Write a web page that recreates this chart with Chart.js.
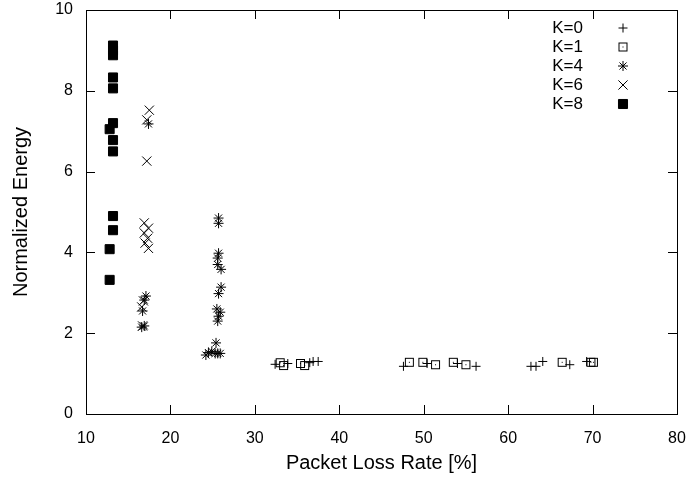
<!DOCTYPE html>
<html>
<head>
<meta charset="utf-8">
<script src="https://cdn.jsdelivr.net/npm/chart.js@4.4.0/dist/chart.umd.min.js"></script>
<style>
  body { margin: 0; background: #fff; }
  #wrap { width: 691px; height: 483px; }
</style>
</head>
<body>
<div id="wrap"><canvas id="myChart"></canvas></div>
<script>
// series
const seriesNames = ['K=0', 'K=1', 'K=4', 'K=6', 'K=8'];

const k0X = [32.4, 33.9, 36.5, 36.9, 37.5, 47.6, 50.4, 54.0, 56.2, 62.7, 63.3, 64.1, 67.3, 69.3];
const k0Y = [1.23, 1.25, 1.27, 1.30, 1.30, 1.18, 1.25, 1.25, 1.18, 1.18, 1.18, 1.30, 1.22, 1.30];

const k1X = [33.0, 33.4, 35.4, 35.9, 48.3, 49.9, 51.4, 53.5, 55.0, 66.4, 69.8, 70.1];
const k1Y = [1.27, 1.20, 1.25, 1.20, 1.28, 1.28, 1.22, 1.28, 1.22, 1.28, 1.28, 1.28];

const k4X = [17.4, 17.1, 16.9, 16.7, 16.9, 16.6,
             25.7, 25.7, 25.7, 25.6, 25.6, 26.0, 26.0, 25.7, 25.5, 25.9, 25.7, 25.6,
             25.4, 24.2, 24.5, 24.9, 25.3, 25.6, 25.9];
const k4Y = [7.18, 2.92, 2.82, 2.55, 2.18, 2.15,
             4.85, 4.72, 3.98, 3.86, 3.70, 3.58, 3.14, 2.98, 2.60, 2.52, 2.42, 2.30,
             1.76, 1.46, 1.52, 1.55, 1.50, 1.50, 1.50];

const k6X = [17.5, 17.2, 17.2, 16.9, 17.4, 16.9, 17.3, 17.0, 17.4, 16.8, 16.6, 16.7];
const k6Y = [7.52, 7.28, 6.26, 4.73, 4.60, 4.48, 4.35, 4.23, 4.10, 2.80, 2.65, 2.18];

const k8X = [13.2, 13.2, 13.2, 13.2, 13.2, 13.2, 12.8, 13.2, 13.2, 13.2, 13.2, 12.8, 12.8];
const k8Y = [9.12, 9.00, 8.88, 8.33, 8.06, 7.20, 7.05, 6.78, 6.50, 4.90, 4.55, 4.08, 3.32];

const xTicks = [10, 20, 30, 40, 50, 60, 70, 80];
const yTicks = [0, 2, 4, 6, 8, 10];

const FONT = "'Liberation Sans', Arial, sans-serif";

function pts(xs, ys) {
    return xs.map((x, i) => ({ x: x, y: ys[i] }));
}

// open square with a dot in the middle
function boxDot() {
    const c = document.createElement('canvas');
    c.width = 11; c.height = 11;
    const g = c.getContext('2d');
    g.strokeStyle = '#000';
    g.lineWidth = 1;
    g.strokeRect(1.5, 1.5, 8, 8);
    g.fillStyle = '#000';
    g.fillRect(5, 5, 1, 1);
    return c;
}
const boxStyle = boxDot();

const markers = [
    { pointStyle: 'cross', radius: 4.5 },
    { pointStyle: boxStyle, radius: 5 },
    { pointStyle: 'star', radius: 5 },
    { pointStyle: 'crossRot', radius: 6.5 },
    { pointStyle: 'rect', radius: 6.4 }
];

const allData = [pts(k0X, k0Y), pts(k1X, k1Y), pts(k4X, k4Y), pts(k6X, k6Y), pts(k8X, k8Y)];

const datasets = allData.map((d, i) => ({
    label: seriesNames[i],
    data: d,
    pointStyle: markers[i].pointStyle,
    pointRadius: markers[i].radius,
    pointHoverRadius: markers[i].radius,
    borderColor: '#000',
    backgroundColor: '#000',
    pointBorderWidth: 1,
    showLine: false
}));

// box around the plot + inward ticks on all four sides
const framePlugin = {
    id: 'frame',
    afterDatasetsDraw(chart) {
        const { ctx, chartArea: a, scales } = chart;
        ctx.save();
        ctx.strokeStyle = '#000';
        ctx.lineWidth = 1;
        ctx.beginPath();
        const L = 9;
        xTicks.forEach(v => {
            const px = Math.round(scales.x.getPixelForValue(v)) + 0.5;
            ctx.moveTo(px, a.bottom); ctx.lineTo(px, a.bottom - L);
            ctx.moveTo(px, a.top); ctx.lineTo(px, a.top + L);
        });
        yTicks.forEach(v => {
            const py = Math.round(scales.y.getPixelForValue(v)) + 0.5;
            ctx.moveTo(a.left, py); ctx.lineTo(a.left + L, py);
            ctx.moveTo(a.right, py); ctx.lineTo(a.right - L, py);
        });
        ctx.stroke();
        ctx.strokeRect(Math.round(a.left) + 0.5, Math.round(a.top) + 0.5,
            Math.round(a.right - a.left), Math.round(a.bottom - a.top));
        ctx.restore();
    }
};

// gnuplot-like key: label on the left, symbol on the right
const keyPlugin = {
    id: 'key',
    afterDatasetsDraw(chart) {
        const { ctx } = chart;
        ctx.save();
        ctx.font = '17px ' + FONT;
        ctx.fillStyle = '#000';
        ctx.textAlign = 'right';
        ctx.textBaseline = 'middle';
        chart.data.datasets.forEach((ds, i) => {
            const y = 28 + i * 19;
            ctx.fillText(ds.label, 583, y);
            Chart.helpers.drawPoint(ctx, {
                pointStyle: ds.pointStyle,
                radius: ds.pointRadius,
                borderWidth: 1,
                rotation: 0
            }, 623, y);
            ctx.strokeStyle = '#000';
        });
        ctx.restore();
    }
};

const config = {
    type: 'scatter',
    data: { datasets: datasets },
    options: {
        responsive: true,
        maintainAspectRatio: false,
        animation: false,
        layout: { padding: { top: 10, right: 14, left: 0, bottom: 0 } },
        plugins: {
            legend: { display: false },
            tooltip: { enabled: false }
        },
        scales: {
            x: {
                type: 'linear',
                min: 10,
                max: 80,
                afterBuildTicks: (s) => { s.ticks = xTicks.map(v => ({ value: v })); },
                afterFit: (s) => { s.height = 69; s.paddingLeft = 0; s.paddingRight = 0; },
                grid: { display: false, drawTicks: false },
                border: { display: false },
                ticks: { color: '#000', padding: 15, font: { family: FONT, size: 16 } },
                title: { display: true, text: 'Packet Loss Rate [%]', color: '#000',
                         font: { family: FONT, size: 20 }, padding: { top: 4, bottom: 8 } }
            },
            y: {
                type: 'linear',
                min: 0,
                max: 10,
                afterBuildTicks: (s) => { s.ticks = yTicks.map(v => ({ value: v })); },
                afterFit: (s) => { s.width = 86; s.paddingTop = 0; s.paddingBottom = 0; },
                grid: { display: false, drawTicks: false },
                border: { display: false },
                ticks: { color: '#000', padding: 13, font: { family: FONT, size: 16 } },
                title: { display: true, text: 'Normalized Energy', color: '#000',
                         font: { family: FONT, size: 20 }, padding: { top: 9, bottom: 0 } }
            }
        }
    },
    plugins: [framePlugin, keyPlugin]
};

Chart.defaults.color = '#000';
const myChart = new Chart(document.getElementById('myChart'), config);
</script>
</body>
</html>
